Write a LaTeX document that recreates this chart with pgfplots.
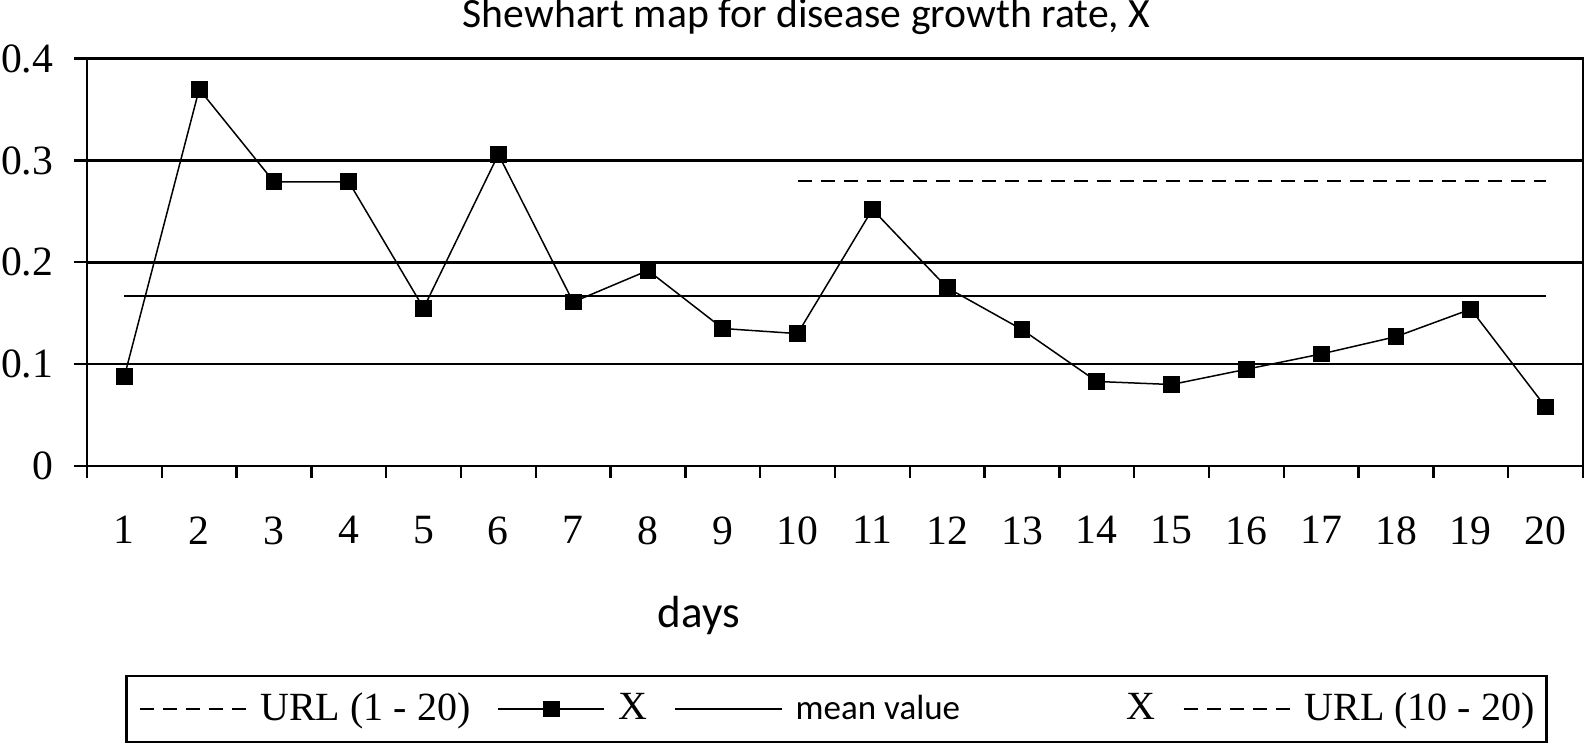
\documentclass[border=0pt]{standalone}
\usepackage{fontspec}
\setmainfont{Liberation Serif}
\newfontfamily\carlito{Carlito}
\usepackage{pgfplots}
\pgfplotsset{compat=1.18}
\begin{document}
\begin{tikzpicture}
\useasboundingbox (-26.1pt,-84pt) rectangle (450.3pt,139.8pt);
\begin{axis}[
  scale only axis, width=448.8pt, height=122.2pt,
  xmin=0.5, xmax=20.5, ymin=0, ymax=0.4,
  xtick={1,...,20},
  tick pos=left,
  major x tick style={draw=none},
  minor xtick={0.5,1.5,...,20.5},
  minor x tick style={black, line width=0.7pt},
  minor tick length=3.5pt,
  major tick length=3.8pt,
  tick align=outside,
  ytick={0,0.1,0.2,0.3,0.4},
  yticklabels={0,0.1,0.2,0.3,0.4},
  ymajorgrids,
  major grid style={black, line width=0.8pt},
  axis line style={black, line width=0.8pt},
  major y tick style={black, line width=0.7pt},
  /pgf/number format/assume math mode=true,
  tick label style={font=\fontsize{12.5}{14}\selectfont},
  xticklabel style={yshift=-7.8pt},
  yticklabel style={xshift=-2.8pt},
  title={\carlito\fontsize{12.5}{14}\selectfont Shewhart map for disease growth rate, X},
  every axis title/.style={at={(axis description cs:0.2433,1)}, anchor=base west, yshift=9.2pt},
  xlabel={\carlito\fontsize{13.5}{15}\selectfont days},
  every axis x label/.style={at={(axis description cs:0.409,-0.3977)}, anchor=base},
  legend columns=-1,
  legend style={at={(axis description cs:0.501,-0.5966)}, anchor=center,
    draw=black, line width=0.8pt, font=\fontsize{12}{14}\selectfont,
    inner xsep=3.6pt, inner ysep=4pt,
    nodes={inner xsep=0pt, inner ysep=1pt},
    /tikz/every odd column/.append style={column sep=3.9pt},
    /tikz/every even column/.append style={column sep=8pt}},
  legend image code/.code={\draw[mark repeat=2,mark phase=2,#1] plot coordinates {(0pt,0pt) (16pt,0pt) (32pt,0pt)};},
]
\addlegendimage{black, line width=0.7pt, dash pattern=on 4.4pt off 2.5pt}
\addlegendentry{URL (1 - 20)}
\addplot[black, line width=0.45pt, mark=square*, mark size=2.3pt, mark options={solid}] coordinates {
 (1,0.088)(2,0.370)(3,0.279)(4,0.279)(5,0.155)(6,0.306)(7,0.161)(8,0.192)(9,0.135)(10,0.130)
 (11,0.252)(12,0.175)(13,0.134)(14,0.083)(15,0.080)(16,0.095)(17,0.110)(18,0.127)(19,0.154)(20,0.058)};
\addlegendentry{X}
\addplot[black, line width=0.7pt] coordinates {(1,0.167)(20,0.167)};
\addlegendentry{{\carlito\fontsize{10.5}{12}\selectfont mean value}\hspace{50pt}X}
\addplot[black, line width=0.8pt, dash pattern=on 4.4pt off 2.5pt] coordinates {(10,0.28)(20,0.28)};
\addlegendentry{URL (10 - 20)}
\end{axis}
\end{tikzpicture}
\end{document}
